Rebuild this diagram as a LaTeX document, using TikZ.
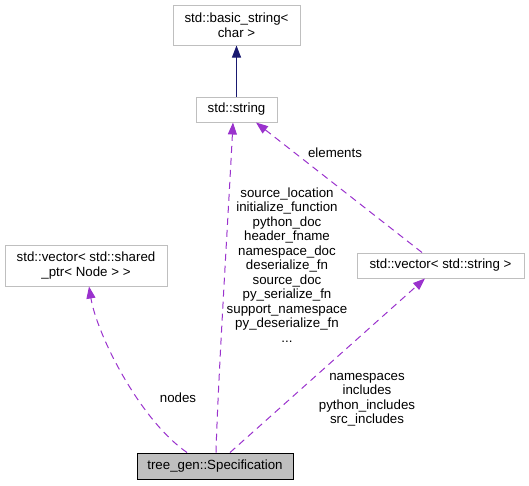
\documentclass[tikz,border=0pt]{standalone}
\usepackage{fontspec}
\setmainfont{Liberation Sans}
\usetikzlibrary{arrows.meta}
\definecolor{edgepurple}{HTML}{9A32CD}
\definecolor{navyedge}{HTML}{191970}
\definecolor{boxgray}{HTML}{BFBFBF}
\tikzset{
  every node/.style={font=\fontsize{13.3pt}{14.5pt}\selectfont, inner sep=0pt},
  cls/.style={draw=boxgray, line width=1pt, fill=white, align=center},
  mainbox/.style={draw=black, line width=1pt, fill=boxgray, align=center},
  dep/.style={draw=edgepurple, line width=1pt, dash pattern=on 7pt off 5pt,
    -{Triangle[length=12pt,width=9pt,fill=edgepurple]}},
  inh/.style={draw=navyedge, line width=1pt,
    -{Triangle[length=12pt,width=9pt,fill=navyedge]}},
  lbl/.style={align=center}
}
\begin{document}
\begin{tikzpicture}[x=1pt,y=-1pt]
\useasboundingbox (0,0) rectangle (529,485);
\node[cls, minimum width=127pt, minimum height=40pt] (bs) at (236.5,25) {std::basic\_string<\\char >};
\node[cls, minimum width=81pt, minimum height=25pt] (str) at (236.5,109.5) {std::string};
\node[cls, minimum width=162pt, minimum height=41pt] (vsp) at (86,265.5) {std::vector< std::shared\\\_ptr< Node > >};
\node[cls, minimum width=167pt, minimum height=25pt] (vs) at (440.5,265.5) {std::vector< std::string >};
\node[mainbox, minimum width=156pt, minimum height=26pt] (spec) at (215,466) {tree\_gen::Specification};

\draw[inh] (str.north) -- (bs.south);
\draw[dep] ([xshift=-28pt]spec.north) .. controls (140,420) and (97,335) .. ([xshift=3pt]vsp.south);
\draw[dep] ([xshift=1pt]spec.north) .. controls (218,380) and (228,220) .. ([xshift=-3.5pt]str.south);
\draw[dep] ([xshift=15pt]spec.north) -- ([xshift=-15.5pt]vs.south);
\draw[dep] ([xshift=-18.5pt]vs.north) -- ([xshift=19.5pt]str.south);

\node[lbl] (lelem) at (335,153) {elements};
\node[lbl] (lstr) at (287,265) {source\_location\\initialize\_function\\python\_doc\\header\_fname\\namespace\_doc\\deserialize\_fn\\source\_doc\\py\_serialize\_fn\\support\_namespace\\py\_deserialize\_fn\\...};
\node[lbl] (lnodes) at (178,398) {nodes};
\node[lbl] (lvs) at (367,399.5) {namespaces\\includes\\python\_includes\\src\_includes};
\end{tikzpicture}
\end{document}
